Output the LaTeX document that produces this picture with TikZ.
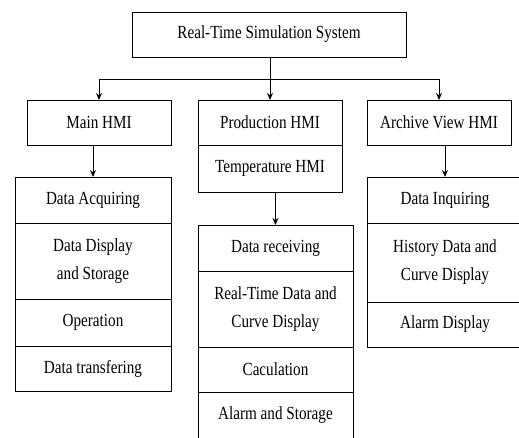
\documentclass[tikz,border=0pt]{standalone}
\usepackage{fontspec}
\setmainfont{Liberation Serif}[FakeStretch=0.82]
\usetikzlibrary{positioning,arrows.meta}

\begin{document}
\begin{tikzpicture}[
    x=1pt, y=-1pt,
    every node/.style={font=\fontsize{18.5}{28}\selectfont},
    block/.style={rectangle, draw, line width=1pt, minimum width=144pt, minimum height=45pt, align=center, inner sep=0pt, outer sep=0pt},
    item/.style={rectangle, draw, line width=1pt, minimum width=156pt, minimum height=46pt, align=center, inner sep=0pt, outer sep=0pt},
    tall/.style={item, minimum height=77pt},
    arrow/.style={-{Stealth[length=7pt,width=6pt]}, line width=1pt},
    line/.style={line width=1pt}
]

\clip (0,0) rectangle (519,437);
\fill[white] (0,0) rectangle (519,437);

% Top
\node[block, minimum width=274pt] (rts) at (269,34.5) {Real-Time Simulation System};

% HMI blocks
\node[block] (main) at (99,122.5) {Main HMI};
\node[block] (prod) at (270,122.5) {Production HMI};
\node[block, minimum height=47pt, below=0pt of prod] (temp) {Temperature HMI};
\node[block] (arch) at (439,122.5) {Archive View HMI};

% Main HMI functions
\node[item] (acq) at (93,200) {Data Acquiring};
\node[tall, minimum height=76pt, below=0pt of acq] (disp) {Data Display\\and Storage};
\node[item, minimum height=47pt, below=0pt of disp] (oper) {Operation};
\node[item, minimum height=45pt, below=0pt of oper] (trans) {Data transfering};

% Production / Temperature HMI functions
\node[item, minimum width=155pt] (recv) at (275.5,248) {Data receiving};
\node[tall, minimum width=155pt, minimum height=76pt, below=0pt of recv] (rtd) {Real-Time Data and\\Curve Display};
\node[item, minimum width=155pt, minimum height=45pt, below=0pt of rtd] (calc) {Caculation};
\node[item, minimum width=155pt, below=0pt of calc] (alarm) {Alarm and Storage};

% Archive View HMI functions
\node[item] (inq) at (445,200) {Data Inquiring};
\node[tall, minimum height=79pt, below=0pt of inq] (hist) {History Data and\\Curve Display};
\node[item, minimum height=45pt, below=0pt of hist] (almdisp) {Alarm Display};

% Tree
\coordinate (split) at (270,79);
\draw[line] (rts.south -| split) -- (split);
\draw[line] (main.north |- split) -- (arch.north |- split);
\draw[arrow] (main.north |- split) -- (main.north);
\draw[arrow] (split) -- (prod.north);
\draw[arrow] (arch.north |- split) -- (arch.north);

% Down arrows
\draw[arrow] (acq.north |- main.south) -- (acq.north);
\draw[arrow] (recv.north |- temp.south) -- (recv.north);
\draw[arrow] (inq.north |- arch.south) -- (inq.north);

\end{tikzpicture}
\end{document}
